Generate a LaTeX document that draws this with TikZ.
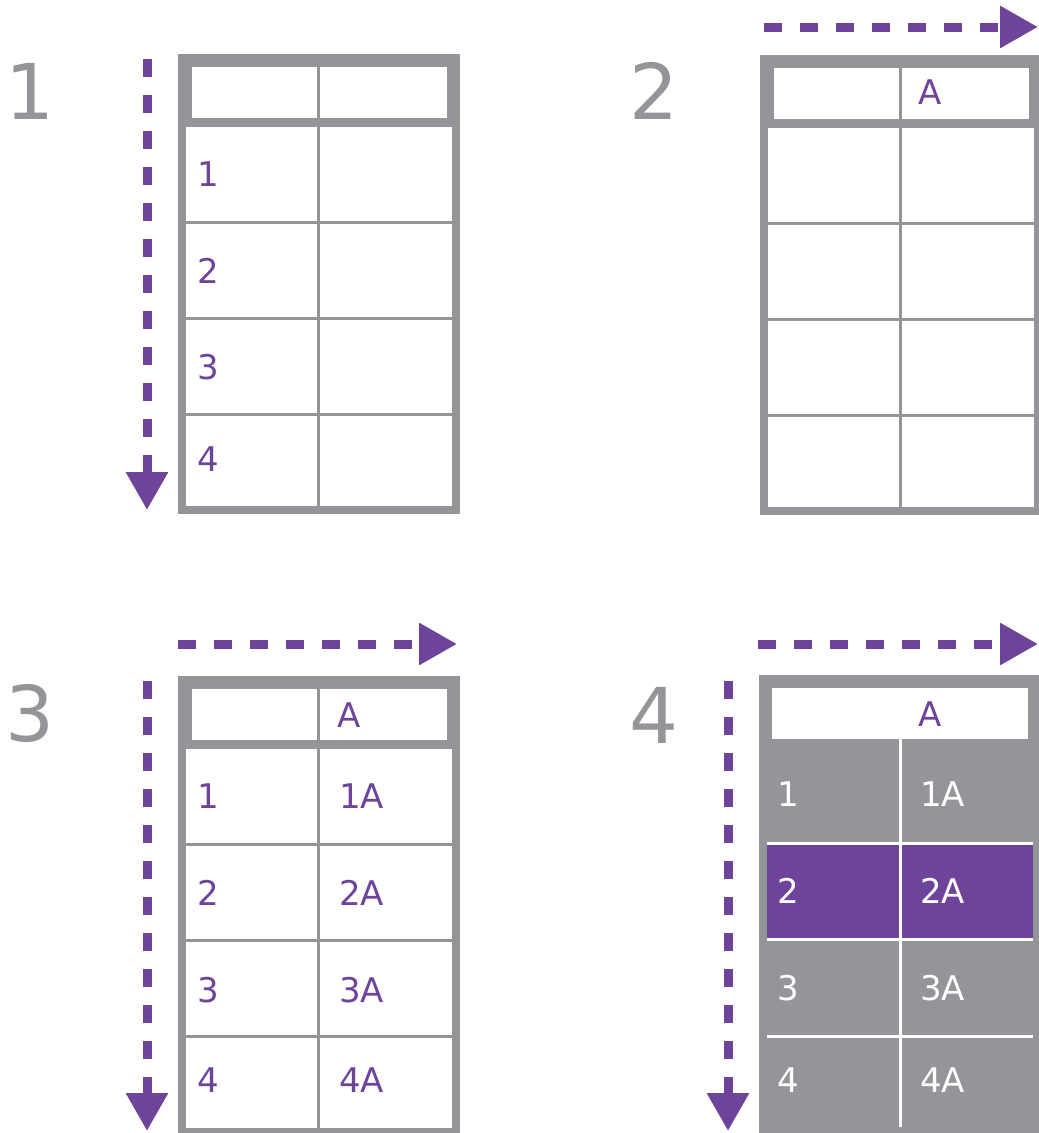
\documentclass[tikz,border=0pt]{standalone}
\usepackage{fontspec}
\newfontfamily\dv{DejaVu Sans}
\usetikzlibrary{arrows.meta}
\definecolor{tpurple}{RGB}{110,68,155}
\definecolor{tgray}{RGB}{148,149,153}
\tikzset{
  flow/.style={draw=tpurple, line width=9pt, dash pattern=on 18pt off 18pt, -{Triangle[width=40pt,length=38pt]}},
  bignum/.style={text=tgray, font=\dv\fontsize{77}{77}\selectfont, inner sep=0pt, anchor=center},
  cell/.style={text=tpurple, font=\dv\fontsize{34}{34}\selectfont, inner sep=0pt, anchor=west},
  wcell/.style={cell, text=white},
}
\begin{document}
\begin{tikzpicture}[x=1pt,y=-1pt]
\useasboundingbox (0,0) rectangle (1039,1133);
\clip (0,0) rectangle (1039,1133);
\fill[white] (0,0) rectangle (1039,1133);

% big panel numbers
\node[bignum] (n1) at (29.5,91.5) {1};
\node[bignum] (n2) at (654,91) {2};
\node[bignum] (n3) at (30,713.5) {3};
\node[bignum] (n4) at (654,715) {4};

% white tables (panels 1-3)
\foreach \X/\Y in {178/54, 760/55, 178/676}{
  \begin{scope}[shift={(\X,\Y)}]
    \fill[tgray] (0,0) rectangle (282,460);
    \fill[white] (14,13) rectangle (269,64);
    \fill[white] (8,73) rectangle (274,452);
    \fill[tgray] (139,13) rectangle (142,452);
    \foreach \r in {166.5,262.5,358.5}{
      \fill[tgray] (8,\r) rectangle (274,\r+3);
    }
  \end{scope}
}

% panel 4 table
\begin{scope}[shift={(759,675)}]
  \fill[tgray] (0,0) rectangle (282,460);
  \fill[white] (13,13) rectangle (269,64);
  \fill[tpurple] (8,170) rectangle (274,263);
  \fill[white] (8,167) rectangle (274,170);
  \fill[white] (8,263) rectangle (274,266);
  \fill[white] (8,360) rectangle (274,363);
  \fill[white] (140,64) rectangle (142.5,452);
\end{scope}

% panel 1 texts
\node[cell] (t1r1) at (197,174.5) {1};
\node[cell] (t1r2) at (197,271) {2};
\node[cell] (t1r3) at (197,367) {3};
\node[cell] (t1r4) at (197,459) {4};

% panel 2 texts
\node[cell] (t2h) at (918,92) {A};

% panel 3 texts
\node[cell] (t3h) at (337,715) {A};
\foreach \n/\yy in {1/796.5, 2/893, 3/990, 4/1080}{
  \node[cell] (t3l\n) at (197,\yy) {\n};
  \node[cell] (t3r\n) at (339,\yy) {\n A};
}

% panel 4 texts
\node[cell] (t4h) at (918,714) {A};
\foreach \n/\yy in {1/794.5, 2/891, 3/988, 4/1080}{
  \node[wcell] (t4l\n) at (777,\yy) {\n};
  \node[wcell] (t4r\n) at (920,\yy) {\n A};
}

% arrows
\coordinate (a1s) at (147,59);   \coordinate (a1e) at (147,510);
\coordinate (a2s) at (764,27);   \coordinate (a2e) at (1038,27);
\coordinate (a3hs) at (178,644); \coordinate (a3he) at (457,644);
\coordinate (a3vs) at (147,681); \coordinate (a3ve) at (147,1131);
\coordinate (a4hs) at (758,644); \coordinate (a4he) at (1038,644);
\coordinate (a4vs) at (728,681); \coordinate (a4ve) at (728,1131);
\draw[flow] (a1s) -- (a1e);
\draw[flow] (a2s) -- (a2e);
\draw[flow] (a3hs) -- (a3he);
\draw[flow] (a3vs) -- (a3ve);
\draw[flow] (a4hs) -- (a4he);
\draw[flow] (a4vs) -- (a4ve);
\end{tikzpicture}
\end{document}
